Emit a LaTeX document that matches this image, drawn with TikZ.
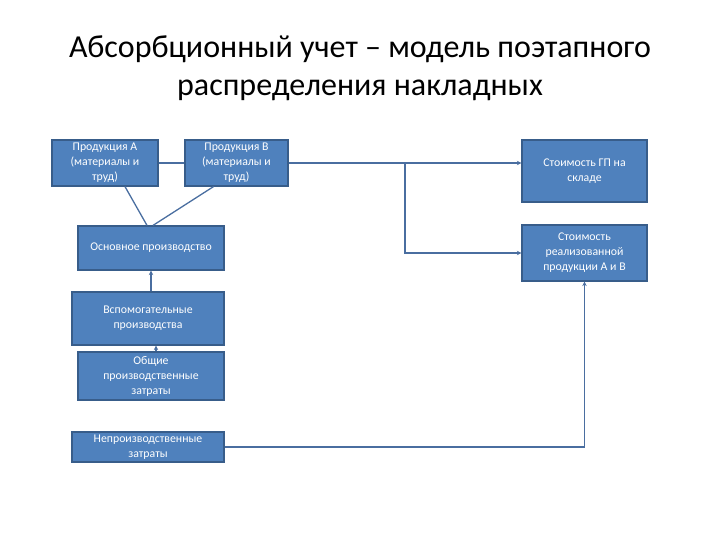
\documentclass[tikz,border=0pt]{standalone}
\usepackage{fontspec}
\setmainfont{Carlito}
\usetikzlibrary{arrows.meta,calc}
\definecolor{boxfill}{RGB}{79,129,189}
\definecolor{boxedge}{RGB}{56,93,138}
\definecolor{linec}{RGB}{74,110,160}
\tikzset{
  box/.style={draw=boxedge, line width=1.2pt, fill=boxfill, text=white, align=center,
    font=\fontsize{11.8}{15}\selectfont, inner sep=1pt},
  conn/.style={draw=linec, line width=1.3pt},
  arr/.style={conn, -{Stealth[length=4.5pt,width=4.5pt]}}
}
\begin{document}
\begin{tikzpicture}[x=1pt,y=-1pt]
\useasboundingbox (0,0) rectangle (720,540);
\node (t) [align=center, font=\fontsize{32}{38}\selectfont] at (360,68)
  {Абсорбционный учет – модель поэтапного\\распределения накладных};
\node (A) [box, minimum width=106pt, minimum height=46pt] at (105,163) {Продукция А\\(материалы и\\труд)};
\node (B) [box, minimum width=103pt, minimum height=46pt] at (236.5,163) {Продукция В\\(материалы и\\труд)};
\node (G) [box, minimum width=125pt, minimum height=62pt] at (584.5,171) {Стоимость ГП на\\складе};
\node (R) [box, minimum width=125pt, minimum height=56pt] at (584.5,253) {Стоимость\\реализованной\\продукции А и В};
\node (O) [box, minimum width=146pt, minimum height=44pt] at (151,248) {Основное производство};
\node (V) [box, minimum width=152pt, minimum height=53pt] at (148,318.5) {Вспомогательные\\производства};
\node (Q) [box, minimum width=146pt, minimum height=48pt] at (151,376) {Общие\\производственные\\затраты};
\node (N) [box, minimum width=152pt, minimum height=30pt] at (148,447) {Непроизводственные\\затраты};
\coordinate (br) at (405,163);
\draw[conn] (A.east) -- (B.west);
\draw[arr] (B.east) -- (G.west |- B.east);
\draw[arr] (br) |- (R.west);
\draw[conn] ($(A.south)+(20,0)$) -- ($(O.north)+(-4,0)$);
\draw[conn] ($(B.south)+(-23,0)$) -- ($(O.north)+(2,0)$);
\draw[arr] (V.north -| O.north) -- (O.south);
\draw[arr] ($(Q.north)+(5,0)$) -- ($(V.south)+(8,0)$);
\draw[arr] (N.east) -| (R.south);
\end{tikzpicture}
\end{document}
